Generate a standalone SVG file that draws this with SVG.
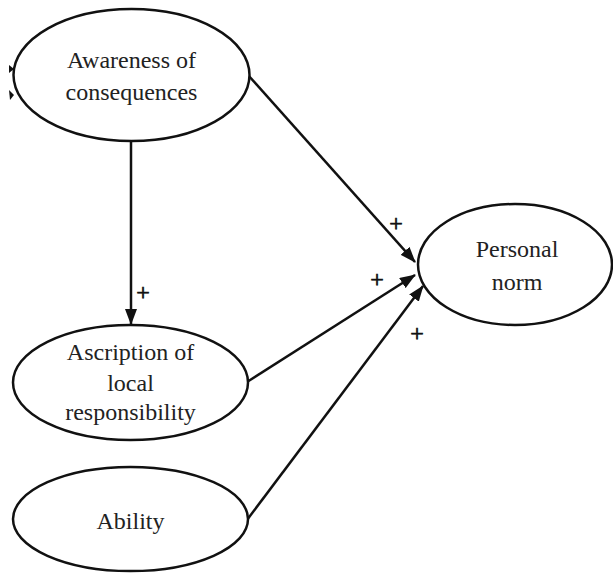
<svg xmlns="http://www.w3.org/2000/svg" width="613" height="573" viewBox="0 0 613 573">
<style>
.node ellipse{fill:#fff;stroke:#111;stroke-width:2.5}
text{font-family:"Liberation Serif","Times New Roman",serif;font-size:24px;fill:#222;text-anchor:middle}
.plus{font-size:24px;fill:#111;stroke:#111;stroke-width:0.7}
.edge{stroke:#111;stroke-width:2.5;fill:none;marker-end:url(#arr)}
</style>
<defs>
<marker id="arr" viewBox="0 0 16 12" refX="15" refY="6" markerWidth="16" markerHeight="12" markerUnits="userSpaceOnUse" orient="auto">
<path d="M0,0 L16,6 L0,12 z" fill="#111"/>
</marker>
</defs>
<rect width="613" height="573" fill="#fff"/>
<g id="marks" fill="#111">
<path d="M9,65 L14,69 L9,73 z"/>
<path d="M9,90 L14,95 L10,100 z"/>
</g>
<g id="connectors">
<line class="edge" x1="131" y1="141" x2="131" y2="324"/>
<line class="edge" x1="248" y1="75" x2="415" y2="262"/>
<line class="edge" x1="247" y1="382" x2="415" y2="275"/>
<line class="edge" x1="247" y1="520" x2="423" y2="286"/>
<text class="plus" x="143" y="300">+</text>
<text class="plus" x="396" y="231">+</text>
<text class="plus" x="377" y="287">+</text>
<text class="plus" x="417" y="341">+</text>
</g>
<g id="awareness" class="node">
<ellipse cx="131.5" cy="75" rx="118" ry="66"/>
<text x="131.5" y="68">Awareness of</text>
<text x="131.5" y="100">consequences</text>
</g>
<g id="ascription" class="node">
<ellipse cx="130.5" cy="382.5" rx="117.5" ry="57.5"/>
<text x="130.5" y="360">Ascription of</text>
<text x="130.5" y="391">local</text>
<text x="130.5" y="420">responsibility</text>
</g>
<g id="ability" class="node">
<ellipse cx="130.5" cy="519" rx="117.5" ry="52"/>
<text x="130.5" y="529">Ability</text>
</g>
<g id="personal_norm" class="node">
<ellipse cx="515" cy="264.5" rx="97" ry="60.5"/>
<text x="517" y="257">Personal</text>
<text x="517" y="290">norm</text>
</g>
</svg>
